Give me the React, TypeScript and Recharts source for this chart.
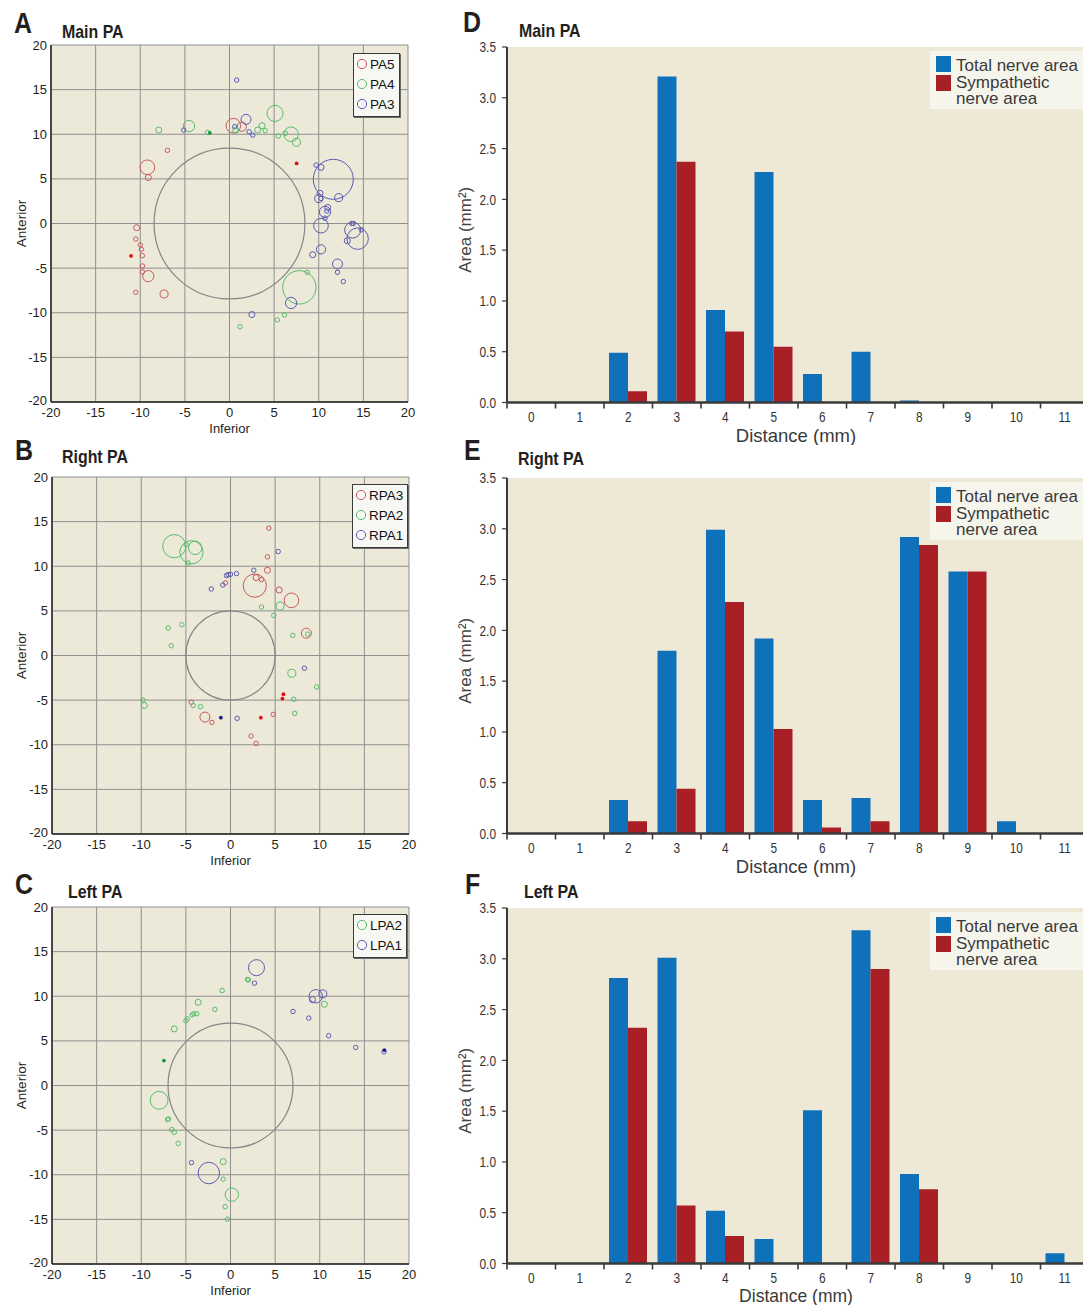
import React from 'react';
import { ScatterChart, Scatter, XAxis, YAxis, ZAxis, CartesianGrid, Legend, BarChart, Bar } from 'recharts';

const SANS = "'Liberation Sans', Arial, Helvetica, sans-serif";
const INK = '#231f20';

type Ring = { x: number; y: number; r: number };
type Dot = { x: number; y: number };

const S = 0.25;
const M = 0.34;

// ---------- Panel A : Main PA (radius in mm) ----------
const pa5: Ring[] = [
  { x: 0.43, y: 10.96, r: 0.82 }, { x: 1.37, y: 10.85, r: 0.52 }, { x: -9.2, y: 6.3, r: 0.82 },
  { x: -9.1, y: 5.15, r: M }, { x: -6.96, y: 8.2, r: S }, { x: -10.4, y: -0.47, r: M },
  { x: -10.5, y: -1.74, r: S }, { x: -10.0, y: -2.4, r: S }, { x: -9.87, y: -2.9, r: S },
  { x: -9.76, y: -3.6, r: S }, { x: -9.76, y: -4.76, r: S }, { x: -9.76, y: -5.43, r: S },
  { x: -9.1, y: -5.9, r: 0.63 }, { x: -10.5, y: -7.7, r: S }, { x: -7.33, y: -7.9, r: 0.45 },
];
const pa5Dots: Dot[] = [{ x: -11.03, y: -3.63 }, { x: 7.52, y: 6.73 }];
const pa4: Ring[] = [
  { x: -7.93, y: 10.47, r: M }, { x: -4.54, y: 10.92, r: 0.63 }, { x: -2.45, y: 10.2, r: S },
  { x: 0.69, y: 10.47, r: M }, { x: 3.16, y: 10.47, r: M }, { x: 3.64, y: 10.96, r: M },
  { x: 4.0, y: 10.4, r: S }, { x: 5.1, y: 12.34, r: 0.9 }, { x: 5.47, y: 9.8, r: S },
  { x: 6.26, y: 10.1, r: S }, { x: 6.9, y: 10.0, r: 0.82 }, { x: 7.5, y: 9.1, r: 0.45 },
  { x: 7.83, y: -7.15, r: 1.87 }, { x: 8.72, y: -5.47, r: S }, { x: 6.15, y: -10.25, r: S },
  { x: 5.36, y: -10.8, r: S }, { x: 1.18, y: -11.56, r: S },
];
const pa4Dots: Dot[] = [{ x: -2.2, y: 10.15 }];
const pa3: Ring[] = [
  { x: 0.8, y: 16.07, r: S }, { x: -5.13, y: 10.47, r: S }, { x: 0.58, y: 10.85, r: S },
  { x: 1.85, y: 11.67, r: 0.56 }, { x: 2.2, y: 10.28, r: S }, { x: 2.6, y: 9.9, r: S },
  { x: 9.7, y: 6.55, r: S }, { x: 10.25, y: 6.3, r: M }, { x: 11.63, y: 4.95, r: 2.24 },
  { x: 10.14, y: 3.38, r: M }, { x: 10.25, y: 2.8, r: S }, { x: 10.0, y: 2.8, r: 0.45 },
  { x: 12.23, y: 2.9, r: 0.45 }, { x: 11.0, y: 1.8, r: M }, { x: 10.7, y: 1.3, r: 0.63 },
  { x: 10.9, y: 1.4, r: S }, { x: 10.7, y: 0.6, r: S }, { x: 10.25, y: -0.24, r: 0.82 },
  { x: 13.7, y: 0.0, r: S }, { x: 13.87, y: 0.0, r: S }, { x: 13.8, y: -0.73, r: 0.9 },
  { x: 14.36, y: -1.7, r: 1.2 }, { x: 14.77, y: -0.7, r: S }, { x: 13.2, y: -1.93, r: M },
  { x: 10.25, y: -2.9, r: 0.52 }, { x: 9.32, y: -3.5, r: M }, { x: 12.1, y: -4.54, r: 0.56 },
  { x: 12.1, y: -5.47, r: S }, { x: 12.75, y: -6.5, r: S }, { x: 6.9, y: -8.9, r: 0.63 },
  { x: 2.5, y: -10.2, r: M },
];
const mainVessel = 8.45;

// ---------- Panel B : Right PA ----------
const rpa3: Ring[] = [
  { x: 4.29, y: 14.27, r: S }, { x: 4.14, y: 11.05, r: S }, { x: 4.14, y: 9.55, r: M },
  { x: 2.87, y: 8.73, r: M }, { x: 3.47, y: 8.5, r: S }, { x: 2.72, y: 7.83, r: 1.3 },
  { x: 5.45, y: 7.34, r: M }, { x: 6.83, y: 6.18, r: 0.82 }, { x: 8.5, y: 2.5, r: 0.56 },
  { x: -0.56, y: 8.13, r: S }, { x: -4.4, y: -5.24, r: S }, { x: -2.87, y: -6.9, r: 0.56 },
  { x: -2.09, y: -7.5, r: S }, { x: 4.78, y: -6.6, r: S }, { x: 2.31, y: -9.03, r: S },
  { x: 2.87, y: -9.85, r: S },
];
const rpa3Dots: Dot[] = [{ x: 5.93, y: -4.34 }, { x: 5.82, y: -4.83 }, { x: 3.4, y: -6.97 }];
const rpa2: Ring[] = [
  { x: -6.3, y: 12.25, r: 1.3 }, { x: -4.37, y: 11.57, r: 1.3 }, { x: -3.96, y: 12.06, r: 0.75 },
  { x: -4.96, y: 12.43, r: S }, { x: -4.74, y: 10.37, r: S }, { x: 3.47, y: 5.43, r: S },
  { x: 5.56, y: 5.54, r: 0.45 }, { x: 4.85, y: 4.49, r: S }, { x: -6.98, y: 3.07, r: S },
  { x: -5.45, y: 3.45, r: S }, { x: -6.64, y: 1.09, r: S }, { x: 6.98, y: 2.25, r: S },
  { x: 8.66, y: 2.4, r: S }, { x: 6.87, y: -1.99, r: 0.45 }, { x: 9.66, y: -3.52, r: S },
  { x: 7.09, y: -4.9, r: S }, { x: 7.2, y: -6.48, r: S }, { x: -9.81, y: -5.0, r: S },
  { x: -9.66, y: -5.6, r: M }, { x: -4.18, y: -5.6, r: S }, { x: -3.36, y: -5.73, r: S },
];
const rpa1: Ring[] = [
  { x: 5.34, y: 11.65, r: S }, { x: 2.61, y: 9.55, r: S }, { x: 0.67, y: 9.18, r: S },
  { x: 0.0, y: 9.1, r: S }, { x: -0.26, y: 9.06, r: S }, { x: -0.45, y: 8.95, r: S },
  { x: -0.86, y: 7.9, r: S }, { x: -2.16, y: 7.45, r: S }, { x: 8.28, y: -1.42, r: S },
  { x: 0.75, y: -7.04, r: S },
];
const rpa1Dots: Dot[] = [{ x: -1.08, y: -6.97 }];
const rightVessel = 5.0;

// ---------- Panel C : Left PA ----------
const lpa2: Ring[] = [
  { x: 1.9, y: 11.89, r: S }, { x: 2.0, y: 11.82, r: S }, { x: -0.93, y: 10.64, r: S },
  { x: -3.62, y: 9.32, r: M }, { x: -1.75, y: 8.53, r: S }, { x: -3.77, y: 8.04, r: S },
  { x: -4.1, y: 8.04, r: S }, { x: -4.3, y: 7.92, r: S }, { x: -4.85, y: 7.47, r: S },
  { x: -5.0, y: 7.25, r: S }, { x: -6.3, y: 6.34, r: M }, { x: -8.0, y: -1.66, r: 1.0 },
  { x: -7.05, y: -3.81, r: S }, { x: -6.95, y: -3.75, r: S }, { x: -6.57, y: -4.94, r: S },
  { x: -6.3, y: -5.25, r: S }, { x: -5.86, y: -6.49, r: S }, { x: -0.82, y: -8.53, r: M },
  { x: -0.82, y: -10.49, r: S }, { x: 0.15, y: -12.23, r: 0.75 }, { x: -0.6, y: -13.58, r: S },
  { x: -0.34, y: -14.98, r: S }, { x: 10.52, y: 9.1, r: M },
];
const lpa2Dots: Dot[] = [{ x: -7.46, y: 2.79 }];
const lpa1: Ring[] = [
  { x: 2.91, y: 13.2, r: 0.9 }, { x: 2.69, y: 11.47, r: S }, { x: 9.55, y: 10.0, r: 0.75 },
  { x: 9.18, y: 9.62, r: M }, { x: 10.34, y: 10.26, r: 0.45 }, { x: 7.0, y: 8.3, r: S },
  { x: 8.77, y: 7.55, r: S }, { x: 11.0, y: 5.58, r: S }, { x: 14.03, y: 4.26, r: S },
  { x: 17.2, y: 3.77, r: S }, { x: -4.37, y: -8.64, r: S }, { x: -2.43, y: -9.81, r: 1.2 },
];
const lpa1Dots: Dot[] = [{ x: 17.24, y: 3.96 }];
const leftVessel = 7.0;

// ---------- Bar charts ----------
const DIST = ['0', '1', '2', '3', '4', '5', '6', '7', '8', '9', '10', '11'];
const AREA_TICKS = [0, 0.5, 1, 1.5, 2, 2.5, 3, 3.5];
const AXIS_TICKS = [-20, -15, -10, -5, 0, 5, 10, 15, 20];

const mainTotal = [0, 0, 0.49, 3.21, 0.91, 2.27, 0.28, 0.50, 0.02, 0, 0, 0];
const mainSymp = [0, 0, 0.11, 2.37, 0.70, 0.55, 0, 0, 0, 0, 0, 0];
const rightTotal = [0, 0, 0.33, 1.80, 2.99, 1.92, 0.33, 0.35, 2.92, 2.58, 0.12, 0];
const rightSymp = [0, 0, 0.12, 0.44, 2.28, 1.03, 0.06, 0.12, 2.84, 2.58, 0, 0];
const leftTotal = [0, 0, 2.81, 3.01, 0.52, 0.24, 1.51, 3.28, 0.88, 0, 0, 0.10];
const leftSymp = [0, 0, 2.32, 0.57, 0.27, 0, 0, 2.90, 0.73, 0, 0, 0];
const BAR_NAMES = ['Total nerve area', 'Sympathetic nerve area'];

const RED = '#c85a5e';
const GREEN = '#58bd6a';
const BLUE = '#5b5bb2';
const BAR_BLUE = '#1071bb';
const BAR_RED = '#a81f26';

const PLOT = 357;
const K = PLOT / 40;
const ZMAX = 100;
const NARROW = 0.8;

type Series = { name: string; ring: string; dot: string; rings: Ring[]; dots: Dot[] };

const withArea = (rs: Ring[]) => rs.map((d) => ({ ...d, a: d.r * d.r }));

const ringShape = (stroke: string, w = 1) => (p: any) => {
  const r = typeof p.size === 'number' && p.size > 0 ? Math.sqrt(p.size / Math.PI) : (p.width || 0) / 2;
  return <circle cx={p.cx} cy={p.cy} r={r} fill="none" stroke={stroke} strokeWidth={w} />;
};
const dotShape = (fill: string) => (p: any) => <circle cx={p.cx} cy={p.cy} r={1.9} fill={fill} />;

const orderBy = (payload: any[], names: string[]) =>
  (payload || [])
    .filter((e: any) => e.type !== 'none' && names.includes(e.value))
    .sort((a: any, b: any) => names.indexOf(a.value) - names.indexOf(b.value));

function ScatterLegend({ payload, names }: any) {
  const items = orderBy(payload, names);
  return (
    <div style={{ border: '1px solid #3a3a3a', boxShadow: '1px 1px 0 #6a6a6a', background: '#f7f7f3', padding: '0 4px 2px 2px', fontFamily: SANS, fontSize: 13.5, color: '#111' }}>
      {items.map((e: any) => (
        <div key={e.value} style={{ display: 'flex', alignItems: 'center', height: 20 }}>
          <svg width={12} height={12} style={{ marginRight: 2 }}>
            <circle cx={6} cy={6} r={4.6} fill="none" stroke={e.color} strokeWidth={1} />
          </svg>
          <span>{e.value}</span>
        </div>
      ))}
    </div>
  );
}

const ScatterYTick = (p: any) => (
  <text x={p.x} y={p.y} dy={p.payload.value === -20 ? '0.2em' : '0.355em'} textAnchor="end" fontFamily={SANS} fontSize={13} fill={INK}>
    {p.payload.value}
  </text>
);

function ScatterPanel(p: { top: number; h: number; mTop: number; yW: number; vessel: number; series: Series[]; legLeft: number; legTop: number }) {
  const mRight = 420 - p.yW - PLOT;
  const xH = p.h - p.mTop - PLOT;
  const vesselData = [{ x: 0, y: 0, a: p.vessel * p.vessel }];
  const names = p.series.map((s) => s.name);
  return (
    <div style={{ position: 'absolute', left: 0, top: p.top }}>
      <ScatterChart width={420} height={p.h} margin={{ top: p.mTop, right: mRight, bottom: 0, left: 0 }}>
        <CartesianGrid stroke="#8f8f8f" strokeWidth={1} fill="#ece9d8" fillOpacity={1} />
        <XAxis
          type="number" dataKey="x" domain={[-20, 20]} ticks={AXIS_TICKS} interval={0} height={xH}
          tickLine={false} tickSize={0} tickMargin={6} allowDataOverflow
          axisLine={{ stroke: INK, strokeWidth: 1.5 }}
          tick={{ fontFamily: SANS, fontSize: 13, fill: INK }}
          label={(lp: any) => {
            const vb = lp.viewBox || { x: p.yW, y: p.mTop + PLOT, width: PLOT };
            return <text x={vb.x + vb.width / 2} y={vb.y + 31} textAnchor="middle" fontFamily={SANS} fontSize={13} fill={INK}>Inferior</text>;
          }}
        />
        <YAxis
          type="number" dataKey="y" domain={[-20, 20]} ticks={AXIS_TICKS} interval={0} width={p.yW}
          tickLine={false} tickSize={0} tickMargin={4} allowDataOverflow
          axisLine={{ stroke: INK, strokeWidth: 1.5 }}
          tick={<ScatterYTick />}
          label={(lp: any) => {
            const vb = lp.viewBox || { x: 0, y: p.mTop, height: PLOT };
            const cx = vb.x + 26;
            const cy = vb.y + vb.height / 2;
            return <text x={cx} y={cy} transform={`rotate(-90 ${cx} ${cy})`} textAnchor="middle" fontFamily={SANS} fontSize={13.5} fill={INK}>Anterior</text>;
          }}
        />
        <ZAxis type="number" dataKey="a" domain={[0, ZMAX]} range={[0, Math.PI * K * K * ZMAX]} />
        <Scatter data={vesselData} legendType="none" shape={ringShape('#858585', 1.2)} isAnimationActive={false} />
        {p.series.map((s) => (
          <Scatter key={s.name} name={s.name} data={withArea(s.rings)} fill={s.ring} shape={ringShape(s.ring)} isAnimationActive={false} />
        ))}
        {p.series.map((s) => (
          <Scatter key={s.name + 'd'} data={s.dots} legendType="none" fill={s.dot} shape={dotShape(s.dot)} isAnimationActive={false} />
        ))}
        <Legend
          layout="horizontal" verticalAlign="middle" align="center"
          wrapperStyle={{ left: p.legLeft, top: p.legTop, width: 'auto', height: 'auto' }}
          content={(lp: any) => <ScatterLegend payload={lp.payload} names={names} />}
        />
      </ScatterChart>
    </div>
  );
}

const BarXTick = (p: any) => {
  const n = p.visibleTicksCount || DIST.length;
  const w = p.width || 582;
  const half = w / n / 2;
  return (
    <g>
      <line x1={p.x - half} x2={p.x - half} y1={p.y} y2={p.y + 6} stroke="#3a3a3a" strokeWidth={1.6} />
      <text transform={`translate(${p.x} ${p.y + 19.5}) scale(${NARROW} 1)`} textAnchor="middle" fontFamily={SANS} fontSize={14.8} fill="#333">
        {p.payload.value}
      </text>
    </g>
  );
};

const BarYTick = (p: any) => (
  <text transform={`translate(${p.x} ${p.y}) scale(${NARROW} 1)`} dy="0.36em" textAnchor="end" fontFamily={SANS} fontSize={14.8} fill="#333">
    {Number(p.payload.value).toFixed(1)}
  </text>
);

function BarLegend({ payload }: any) {
  const items = orderBy(payload, BAR_NAMES);
  return (
    <div style={{ background: '#f6f5ec', width: 170, padding: '5px 0 2px 6px', fontFamily: SANS, fontSize: 17, color: '#3a3a3a' }}>
      {items.map((e: any, i: number) => (
        <div key={e.value} style={{ display: 'flex', alignItems: 'flex-start', lineHeight: i === 0 ? '19px' : '16px' }}>
          <span style={{ width: 15, height: 16, background: e.color, flex: 'none', marginRight: 5 }} />
          <span style={{ width: 128 }}>{e.value}</span>
        </div>
      ))}
    </div>
  );
}

function BarPanel(p: { top: number; h: number; mTop: number; labelDy: number; labelSize: number; total: number[]; symp: number[] }) {
  const data = DIST.map((d, i) => ({ d, total: p.total[i], symp: p.symp[i] }));
  const plotH = 355.5;
  const xH = p.h - p.mTop - plotH;
  return (
    <div style={{ position: 'absolute', left: 450, top: p.top }}>
      <BarChart width={639} height={p.h} data={data} margin={{ top: p.mTop, right: 0, bottom: 0, left: 0 }} barGap={0} barSize={19}>
        <CartesianGrid horizontal={false} vertical={false} fill="#ede9d6" fillOpacity={1} stroke="none" />
        <XAxis
          dataKey="d" type="category" interval={0} height={xH} tickLine={false} tickSize={0} tickMargin={0}
          axisLine={{ stroke: '#3a3a3a', strokeWidth: 2.5 }} tick={<BarXTick />}
          label={(lp: any) => {
            const vb = lp.viewBox || { x: 57, y: p.mTop + plotH, width: 582 };
            return <text x={vb.x + vb.width / 2 - 2} y={vb.y + p.labelDy} textAnchor="middle" fontFamily={SANS} fontSize={p.labelSize} fill="#3a3a3a">Distance (mm)</text>;
          }}
        />
        <YAxis
          type="number" domain={[0, 3.5]} ticks={AREA_TICKS} interval={0} width={57} allowDataOverflow
          tickSize={5} tickMargin={6} tick={<BarYTick />}
          tickLine={{ stroke: '#3a3a3a', strokeWidth: 1.2 }}
          axisLine={{ stroke: '#3a3a3a', strokeWidth: 2 }}
          label={(lp: any) => {
            const vb = lp.viewBox || { x: 0, y: p.mTop, height: plotH };
            const cx = vb.x + 21;
            const cy = vb.y + vb.height / 2 + 5;
            return <text x={cx} y={cy} transform={`rotate(-90 ${cx} ${cy})`} textAnchor="middle" fontFamily={SANS} fontSize={17} fill="#444">Area (mm²)</text>;
          }}
        />
        <Bar dataKey="total" name={BAR_NAMES[0]} fill={BAR_BLUE} isAnimationActive={false} />
        <Bar dataKey="symp" name={BAR_NAMES[1]} fill={BAR_RED} isAnimationActive={false} />
        <Legend
          layout="horizontal" verticalAlign="middle" align="center"
          wrapperStyle={{ left: 480, top: p.mTop + 4, width: 'auto', height: 'auto' }}
          content={(lp: any) => <BarLegend payload={lp.payload} />}
        />
      </BarChart>
    </div>
  );
}

function Heading({ x, base, size, text }: { x: number; base: number; size: number; text: string }) {
  return (
    <div style={{ position: 'absolute', left: x, top: base - 0.8465 * size, fontFamily: SANS, fontWeight: 700, fontSize: size, lineHeight: `${size}px`, color: INK, whiteSpace: 'nowrap', transform: 'scaleX(0.86)', transformOrigin: '0 0' }}>
      {text}
    </div>
  );
}

const mainSeries: Series[] = [
  { name: 'PA5', ring: RED, dot: '#e01010', rings: pa5, dots: pa5Dots },
  { name: 'PA4', ring: GREEN, dot: '#0c9a3c', rings: pa4, dots: pa4Dots },
  { name: 'PA3', ring: BLUE, dot: '#1a1a9a', rings: pa3, dots: [] },
];
const rightSeries: Series[] = [
  { name: 'RPA3', ring: RED, dot: '#e01010', rings: rpa3, dots: rpa3Dots },
  { name: 'RPA2', ring: GREEN, dot: '#0c9a3c', rings: rpa2, dots: [] },
  { name: 'RPA1', ring: BLUE, dot: '#1a1a9a', rings: rpa1, dots: rpa1Dots },
];
const leftSeries: Series[] = [
  { name: 'LPA2', ring: GREEN, dot: '#0c9a3c', rings: lpa2, dots: lpa2Dots },
  { name: 'LPA1', ring: BLUE, dot: '#1a1a9a', rings: lpa1, dots: lpa1Dots },
];

export default function App() {
  return (
    <div style={{ position: 'absolute', left: 0, top: 0, width: 1083, height: 1305, overflow: 'hidden', background: '#ffffff' }}>
      <ScatterPanel top={0} h={440} mTop={45} yW={51} vessel={mainVessel} series={mainSeries} legLeft={353} legTop={53} />
      <ScatterPanel top={440} h={430} mTop={37} yW={52} vessel={rightVessel} series={rightSeries} legLeft={352} legTop={44} />
      <ScatterPanel top={870} h={435} mTop={37} yW={52} vessel={leftVessel} series={leftSeries} legLeft={353} legTop={44} />

      <BarPanel top={0} h={445} mTop={47} labelDy={39.5} labelSize={18.5} total={mainTotal} symp={mainSymp} />
      <BarPanel top={440} h={445} mTop={38} labelDy={39.5} labelSize={18.5} total={rightTotal} symp={rightSymp} />
      <BarPanel top={870} h={435} mTop={38} labelDy={38.2} labelSize={17.5} total={leftTotal} symp={leftSymp} />

      <Heading x={14} base={33.5} size={29} text="A" />
      <Heading x={62} base={38.3} size={18.5} text="Main PA" />
      <Heading x={15} base={461} size={29} text="B" />
      <Heading x={62} base={464} size={18.5} text="Right PA" />
      <Heading x={15} base={895} size={29} text="C" />
      <Heading x={68} base={899} size={18.5} text="Left PA" />
      <Heading x={463} base={33} size={29} text="D" />
      <Heading x={519} base={38} size={18.5} text="Main PA" />
      <Heading x={464} base={461} size={29} text="E" />
      <Heading x={518} base={466} size={18.5} text="Right PA" />
      <Heading x={465} base={895} size={29} text="F" />
      <Heading x={524} base={899} size={18.5} text="Left PA" />
    </div>
  );
}
